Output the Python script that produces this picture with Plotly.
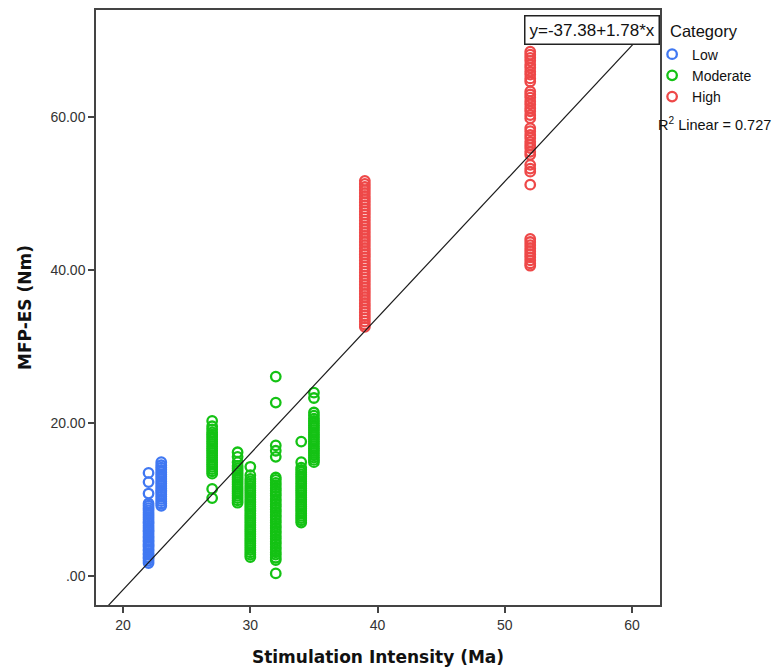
import plotly.graph_objects as go

# ---------------- data ----------------
low_22 = [1.7, 2.0, 2.3, 2.5, 2.8, 3.0, 3.3, 3.5, 3.8, 4.0, 4.2, 4.5, 4.7, 5.0, 5.2, 5.5,
          5.8, 6.0, 6.3, 6.6, 6.9, 7.1, 7.4, 7.7, 8.0, 8.3, 8.6, 8.9, 9.2, 9.5, 10.8, 12.3, 13.5]
low_23 = [9.2, 9.5, 9.8, 10.1, 10.4, 10.7, 11.0, 11.2, 11.5, 11.8, 12.1, 12.4, 12.7, 13.0,
          13.3, 13.6, 13.9, 14.2, 14.5, 14.9]

mod_27 = [10.2, 11.4, 13.4, 13.7, 14.0, 14.3, 14.6, 14.9, 15.2, 15.5, 15.8, 16.1, 16.4, 16.7,
          17.0, 17.3, 17.6, 17.9, 18.2, 18.5, 18.8, 19.2, 19.6, 20.3]
mod_29 = [9.6, 9.9, 10.2, 10.5, 10.8, 11.1, 11.4, 11.7, 12.0, 12.3, 12.6, 12.9, 13.2, 13.5,
          13.8, 14.1, 14.4, 14.9, 15.6, 16.2]
mod_30 = [2.5, 2.8, 3.1, 3.4, 3.7, 4.0, 4.3, 4.6, 4.9, 5.2, 5.5, 5.8, 6.1, 6.4, 6.7, 7.0, 7.3,
          7.6, 7.9, 8.2, 8.5, 8.8, 9.1, 9.4, 9.7, 10.0, 10.3, 10.6, 10.9, 11.2, 11.5, 11.8,
          12.1, 12.4, 12.7, 13.2, 14.3]
mod_32 = [0.35, 2.1, 2.4, 2.8, 3.1, 3.5, 3.8, 4.2, 4.5, 4.9, 5.2, 5.6, 5.9, 6.3, 6.6, 7.0, 7.3,
          7.7, 8.0, 8.4, 8.7, 9.1, 9.4, 9.8, 10.1, 10.5, 10.8, 11.2, 11.5, 11.9, 12.2, 12.6,
          12.9, 15.6, 16.4, 17.1, 22.7, 26.1]
mod_34 = [7.0, 7.3, 7.6, 7.9, 8.2, 8.5, 8.8, 9.1, 9.4, 9.7, 10.0, 10.3, 10.6, 10.9, 11.2, 11.5,
          11.8, 12.1, 12.4, 12.7, 13.0, 13.3, 13.6, 13.9, 14.2, 14.9, 17.6]
mod_35 = [14.9, 15.2, 15.5, 15.8, 16.1, 16.4, 16.7, 17.0, 17.3, 17.6, 17.9, 18.2, 18.5, 18.8,
          19.1, 19.4, 19.7, 20.0, 20.3, 20.6, 21.0, 21.4, 23.3, 24.0]

high_39 = [32.6, 32.9, 33.3, 33.7, 34.1, 34.5, 34.9, 35.3, 35.7, 36.1, 36.5, 36.9, 37.3, 37.7,
           38.1, 38.5, 38.9, 39.3, 39.7, 40.1, 40.5, 40.9, 41.3, 41.7, 42.1, 42.5, 42.9, 43.3,
           43.7, 44.1, 44.5, 44.9, 45.3, 45.7, 46.1, 46.5, 46.9, 47.3, 47.7, 48.1, 48.5, 48.9,
           49.3, 49.7, 50.1, 50.5, 50.9, 51.3, 51.7]
high_52 = [40.6, 40.9, 41.3, 41.7, 42.1, 42.5, 42.9, 43.3, 43.7, 44.1, 51.2, 52.9, 53.3, 53.8,
           55.1, 55.5, 56.0, 56.4, 56.8, 57.3, 57.7, 58.2, 58.6, 59.9, 60.3, 60.8, 61.2, 61.7,
           62.1, 62.6, 63.0, 63.4, 64.7, 65.1, 65.6, 66.0, 66.5, 66.9, 67.4, 67.8, 68.2, 68.6]

groups = {
    "Low": {22: low_22, 23: low_23},
    "Moderate": {27: mod_27, 29: mod_29, 30: mod_30, 32: mod_32, 34: mod_34, 35: mod_35},
    "High": {39: high_39, 52: high_52},
}
colors = {"Low": "#4078F2", "Moderate": "#14C214", "High": "#EE4848"}

fit_intercept = -37.38
fit_slope = 1.78
r2_linear = 0.727

x_range = [17.87, 62.2]
y_range = [-3.78, 74.05]
x_ticks = [20, 30, 40, 50, 60]
y_ticks = [0, 20, 40, 60]
y_ticktext = [".00", "20.00", "40.00", "60.00"]

# ---------------- figure ----------------
fig = go.Figure()
for name, cols in groups.items():
    xs, ys = [], []
    for xv, yl in cols.items():
        xs += [xv] * len(yl)
        ys += yl
    fig.add_trace(go.Scatter(
        x=xs, y=ys, mode="markers", name=name,
        marker=dict(symbol="circle-open", size=9.5, color=colors[name],
                    line=dict(width=2.3, color=colors[name])),
    ))

fig.add_trace(go.Scatter(
    x=x_range, y=[fit_intercept + fit_slope * v for v in x_range],
    mode="lines", line=dict(color="#1a1a1a", width=1.2), showlegend=False,
    hoverinfo="skip",
))

axis_common = dict(showgrid=False, zeroline=False, showline=True, mirror=True,
                   linecolor="#444444", linewidth=1.5, ticks="outside", ticklen=6,
                   tickwidth=1.5, tickcolor="#444444",
                   tickfont=dict(family="Liberation Sans, Arial", size=14, color="#333333"))

fig.update_xaxes(range=x_range, tickvals=x_ticks, **axis_common,
                 title=dict(text="Stimulation Intensity (Ma)", standoff=20,
                            font=dict(family="DejaVu Sans", size=17, color="#111111",
                                      weight="bold")))
fig.update_yaxes(range=y_range, tickvals=y_ticks, ticktext=y_ticktext, **axis_common,
                 title=dict(text="MFP-ES (Nm)", standoff=14,
                            font=dict(family="DejaVu Sans", size=17, color="#111111",
                                      weight="bold")))

fig.add_annotation(
    xref="paper", yref="paper", x=1, y=1, xanchor="right", yanchor="top",
    yshift=-5, text=f"y={fit_intercept:.2f}+{fit_slope:.2f}*x", showarrow=False,
    font=dict(family="Liberation Sans, Arial", size=17, color="#111111"),
    bgcolor="white", bordercolor="#222222", borderwidth=1.5, borderpad=4,
)
fig.add_annotation(
    xref="paper", yref="paper", x=1, y=0.808, xanchor="left", yanchor="middle",
    xshift=-4, text=f"R<sup>2</sup> Linear = {r2_linear:.3f}", showarrow=False,
    font=dict(family="Liberation Sans, Arial", size=14.5, color="#111111"),
)
fig.add_annotation(
    xref="paper", yref="paper", x=1, y=1, xanchor="left", yanchor="middle",
    xshift=8, yshift=-21, text="Category", showarrow=False,
    font=dict(family="Liberation Sans, Arial", size=16.5, color="#111111"),
)

fig.update_layout(
    width=782, height=672,
    margin=dict(l=96, r=122, t=8, b=67),
    paper_bgcolor="white", plot_bgcolor="white",
    legend=dict(x=0.986, y=0.952, xanchor="left", yanchor="top",
                font=dict(family="Liberation Sans, Arial", size=14, color="#111111"),
                itemwidth=30, tracegroupgap=0, bgcolor="rgba(0,0,0,0)"),
)

fig.write_html("out.html")
